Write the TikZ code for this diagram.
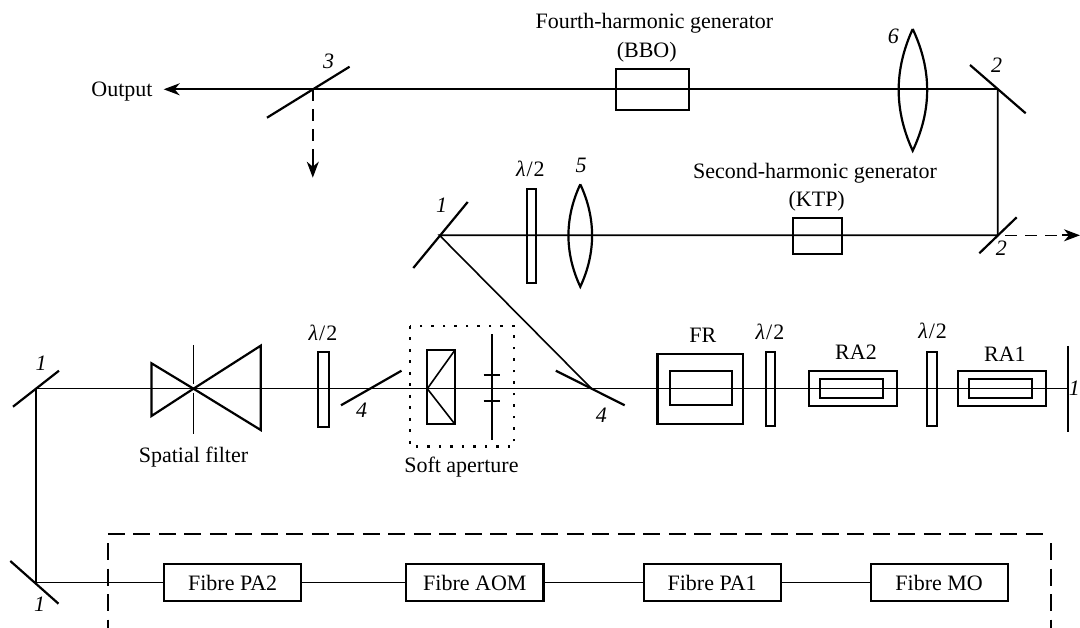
\documentclass[tikz,border=0pt]{standalone}
\usepackage{fontspec}
\setmainfont{Liberation Serif}
\usetikzlibrary{arrows.meta}
\newcommand{\hwp}{{\itshape λ}\kern1pt/\kern1pt2}
\tikzset{
  beam/.style={line width=1.6pt},
  part/.style={line width=2.2pt},
  mirror/.style={line width=2.2pt},
  dbeam/.style={line width=1.5pt,dash pattern=on 12pt off 8pt},
  enclosure/.style={line width=2pt,dash pattern=on 17pt off 8.5pt},
  tipa/.style={-{Stealth[length=16pt,width=12pt,inset=5pt]}},
  lab/.style={inner sep=0pt,font=\fontsize{22}{24}\selectfont},
  num/.style={inner sep=0pt,font=\fontsize{22}{24}\selectfont\itshape},
  rbox/.style={draw,part,inner sep=0pt,outer sep=0pt,font=\fontsize{22}{24}\selectfont}
}
\newcommand{\rb}[6]{%
  \pgfmathsetmacro{\rw}{#4-#2}\pgfmathsetmacro{\rh}{#5-#3}%
  \pgfmathsetmacro{\rx}{(#4+#2)/2}\pgfmathsetmacro{\ry}{(#5+#3)/2}%
  \node[rbox,minimum width=\rw pt,minimum height=\rh pt] (#1) at (\rx,\ry) {#6};}
\begin{document}
\begin{tikzpicture}[x=1pt,y=-1pt]
\useasboundingbox (0,0) rectangle (1080,628);
% junction points
\coordinate (m1a) at (36,388.7);
\coordinate (m1b) at (36,582.65);
\coordinate (end) at (1067.9,388.7);
\coordinate (j4) at (591.6,388.7);
\coordinate (m1c) at (439.5,235.3);
\coordinate (m2b) at (997.7,235.3);
\coordinate (m2a) at (997.7,89.3);
\coordinate (m3) at (312.8,89.3);
\coordinate (outtip) at (163.7,89.3);
\coordinate (dntip) at (312.8,177.7);
\coordinate (rttip) at (1080,235.3);
% mirrors
\draw[mirror] (13,406.7) -- (59,370.7);
\draw[mirror] (10.3,561) -- (58.5,603.7);
\draw[mirror] (341,405.3) -- (401.5,370.7);
\draw[mirror] (555.8,370.7) -- (624.7,405.3);
\draw[mirror] (413.3,268) -- (467.7,202);
\draw[mirror] (267,117.7) -- (349.6,66.7);
\draw[mirror] (970,65) -- (1025.7,113.3);
\draw[mirror] (979.3,253.3) -- (1016.7,217.3);
\draw[mirror] (1067.9,346) -- (1067.9,431.7);
% plates
\rb{hw1}{318}{351.7}{329}{427}{}
\rb{hw2}{765.6}{351.7}{775.2}{426}{}
\rb{hw3}{927}{351.7}{936.7}{426}{}
\rb{hw4}{526.6}{188.7}{536.3}{283.3}{}
% crystals
\rb{bbo}{615.7}{69.3}{689}{109.7}{}
\rb{ktp}{793.3}{218}{842.3}{254}{}
% amplifiers
\rb{fro}{657.4}{354.3}{743.2}{424.3}{}
\rb{fri}{669.8}{371}{731.8}{405}{}
\rb{rato}{808.6}{371}{896.7}{406}{}
\rb{rati}{820.3}{379.3}{883.3}{397.7}{}
\rb{raoo}{957.7}{371}{1045.9}{406}{}
\rb{raoi}{969}{379.3}{1032}{397.7}{}
% spatial filter
\draw[part] (193.5,388.7) -- (151.5,363.3) -- (151.5,416) -- cycle;
\draw[part] (193.5,388.7) -- (260.7,345.7) -- (260.7,430) -- cycle;
\draw[beam] (193.5,345) -- (193.5,384);
\draw[beam] (193.5,393) -- (193.5,434.3);
% soft aperture
\draw[line width=2.6pt,dash pattern=on 2.6pt off 8.9pt] (410,326) rectangle (514,446.7);
\rb{prism}{427.3}{350}{455}{424.3}{}
\draw[beam] (427.3,388.7) -- (455,350);
\draw[beam] (427.3,388.7) -- (455,424.3);
\draw[part] (492,334.3) -- (492,440);
\draw[part] (483.5,375.3) -- (500.3,375.3);
\draw[part] (483.5,400.7) -- (500.3,400.7);
% lenses
\draw[part] (912.7,29) .. controls (894,70) and (894,110) .. (912.7,150.7) .. controls (932,110) and (932,70) .. (912.7,29);
\draw[part] (580.3,184.3) .. controls (564.5,218) and (564.5,253) .. (580.3,286.7) .. controls (596,253) and (596,218) .. (580.3,184.3);
% beams
\draw[beam] (m1b) -- (m1a) -- (end);
\draw[beam] (j4) -- (m1c) -- (m2b) -- (m2a);
\draw[beam,tipa] (m2a) -- (outtip);
\draw[dbeam] (1005,235.3) -- (1062,235.3);
\draw[beam,tipa] (1062,235.3) -- (rttip);
\draw[dbeam] (m3) -- (312.8,160);
\draw[beam,tipa] (312.8,160) -- (dntip);
% fibre chain
\rb{pa2}{164.3}{564}{301}{601.3}{Fibre PA2}
\rb{aom}{406.3}{564}{543.4}{601.3}{Fibre AOM}
\rb{pa1}{643.6}{564}{780.7}{601.3}{Fibre PA1}
\rb{mo}{870.6}{564}{1007.6}{601.3}{Fibre MO}
\draw[beam] (m1b) -- (pa2);
\draw[beam] (pa2) -- (aom);
\draw[beam] (aom) -- (pa1);
\draw[beam] (pa1) -- (mo);
\draw[enclosure] (107.8,534.3) -- (1049.6,534.3);
\draw[enclosure] (107.8,543) -- (107.8,628);
\draw[enclosure] (1051.4,543) -- (1051.4,628);
% labels
\node[lab] (tout) at (122,91.5) {Output};
\node[lab] (tfh) at (654.4,23.5) {Fourth-harmonic generator};
\node[lab] (tbbo) at (646.7,52) {(BBO)};
\node[lab] (tsh) at (815,173) {Second-harmonic generator};
\node[lab] (tktp) at (816.7,201) {(KTP)};
\node[lab] (tsf) at (193.5,457.5) {Spatial filter};
\node[lab] (tsa) at (461.4,467) {Soft aperture};
\node[lab] (tfr) at (702.9,335) {FR};
\node[lab] (tra2) at (856,352.3) {RA2};
\node[lab] (tra1) at (1004.9,354) {RA1};
\node[lab] (l1) at (323,332.7) {\hwp};
\node[lab] (l2) at (770,331.7) {\hwp};
\node[lab] (l3) at (932.6,330.7) {\hwp};
\node[lab] (l4) at (530.4,169.3) {\hwp};
\node[num] (n1a) at (41,363) {1};
\node[num] (n1b) at (39.6,604) {1};
\node[num] (n1c) at (441.6,205.7) {1};
\node[num] (n1d) at (1074.3,388) {1};
\node[num] (n2a) at (996.7,65.7) {2};
\node[num] (n2b) at (1001.3,248.3) {2};
\node[num] (n3) at (328.6,61.7) {3};
\node[num] (n4a) at (361.6,410) {4};
\node[num] (n4b) at (601.3,415) {4};
\node[num] (n5) at (581,165.7) {5};
\node[num] (n6) at (893.3,36) {6};
\end{tikzpicture}
\end{document}
